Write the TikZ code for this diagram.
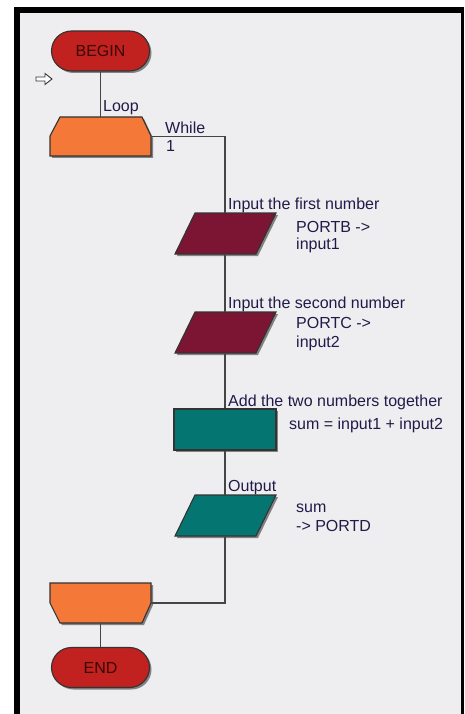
\documentclass[tikz,border=0pt]{standalone}
\usepackage{fontspec}
\setmainfont{Liberation Sans}
\usetikzlibrary{shapes.misc,shadows,calc}
\definecolor{bgc}{HTML}{EEEEF0}
\definecolor{termred}{HTML}{C1221F}
\definecolor{termtxt}{HTML}{3A0606}
\definecolor{looporange}{HTML}{F47838}
\definecolor{inmaroon}{HTML}{7B1533}
\definecolor{calcteal}{HTML}{047571}
\definecolor{outlinec}{HTML}{333333}
\definecolor{linec}{HTML}{454545}
\definecolor{labc}{HTML}{221A48}
\begin{document}
\begin{tikzpicture}[x=1pt,y=-1pt,
  shad/.style={drop shadow={shadow xshift=2pt,shadow yshift=-2pt,opacity=0.45,fill=black}},
  shapeline/.style={draw=outlinec,line width=1.1pt,line join=miter},
  terminal/.style={rounded rectangle,shapeline,shad,fill=termred,text=termtxt,
     minimum width=98pt,minimum height=40pt,inner sep=0pt,font=\fontsize{16}{18}\selectfont},
  slot/.style 2 args={draw=none,inner sep=0pt,minimum width=#1,minimum height=#2},
  conn/.style={draw=linec,line width=1.1pt},
  lbl/.style={anchor=base west,inner sep=0pt,text=labc,font=\fontsize{16}{18}\selectfont},
  calcbox/.style={rectangle,shapeline,shad,fill=calcteal,minimum width=102pt,minimum height=41pt,inner sep=0pt}
]
\useasboundingbox (0,0) rectangle (464,714);
% frame
\fill[white] (0,0) rectangle (464,714);
\fill[black] (14,7) rectangle (464,714);
\fill[bgc] (20,13) rectangle (461,714);

% entry arrow symbol
\draw[fill=white,draw=outlinec,line width=0.9pt,line join=miter]
  (36,77) -- (45,77) -- (45,73.5) -- (52,79) -- (45,84.5) -- (45,81) -- (36,81) -- cycle;

% terminals
\node[terminal] (begin) at (100.5,51) {BEGIN};
\node[terminal] (end) at (100.5,667.5) {END};

% loop start
\path[shapeline,shad,fill=looporange] (60,117) -- (142,117) -- (151,136) -- (151,156) -- (50,156) -- (50,136) -- cycle;
\node[slot={101pt}{39pt}] (loopS) at (100.5,136.5) {};

% loop end
\path[shapeline,shad,fill=looporange] (50,583) -- (151,583) -- (151,603) -- (142,623) -- (60,623) -- (50,603) -- cycle;
\node[slot={101pt}{40pt}] (loopE) at (100.5,603) {};

% inputs
\path[shapeline,shad,fill=inmaroon] (195,213) -- (276,213) -- (256,254) -- (175,254) -- cycle;
\node[slot={101pt}{41pt}] (in1) at (225,233.5) {};
\path[shapeline,shad,fill=inmaroon] (195,312) -- (276,312) -- (256,353) -- (175,353) -- cycle;
\node[slot={101pt}{41pt}] (in2) at (225,332.5) {};

% calculation
\node[calcbox] (calc) at (225,429.5) {};

% output
\path[shapeline,shad,fill=calcteal] (195,495) -- (276,495) -- (256,536) -- (175,536) -- cycle;
\node[slot={101pt}{41pt}] (out) at (225,515.5) {};

% connectors
\draw[conn] (begin.south) -- (loopS.north);
\draw[conn] (loopS.east) -| (in1.north);
\draw[conn] (in1.south) -- (in2.north);
\draw[conn] (in2.south) -- (calc.north);
\draw[conn] (calc.south) -- (out.north);
\draw[conn] (out.south) |- (loopE.east);
\draw[conn] (loopE.south) -- (end.north);

% labels
\node[lbl] (lloop) at (103,112) {Loop};
\node[lbl] (lwhile) at (165,133.5) {While};
\node[lbl] (lone) at (166,152) {1};
\node[lbl] (lin1) at (228,209) {Input the first number};
\node[lbl] (lin1a) at (296,232) {PORTB ->};
\node[lbl] (lin1b) at (296,249.5) {input1};
\node[lbl] (lin2) at (228,308) {Input the second number};
\node[lbl] (lin2a) at (296,328) {PORTC ->};
\node[lbl] (lin2b) at (296,347) {input2};
\node[lbl] (lcalc) at (228,406) {Add the two numbers together};
\node[lbl] (lcalca) at (289,429) {sum = input1 + input2};
\node[lbl] (lout) at (228,491) {Output};
\node[lbl] (louta) at (296,512) {sum};
\node[lbl] (loutb) at (296,531) {-> PORTD};
\end{tikzpicture}
\end{document}
